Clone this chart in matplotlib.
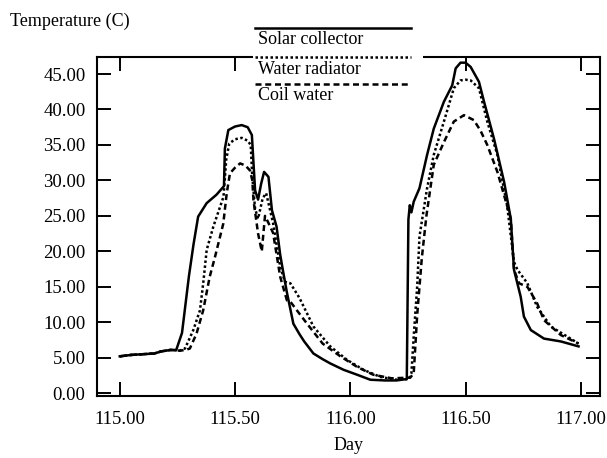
import matplotlib
matplotlib.use("Agg")
import matplotlib.pyplot as plt
from matplotlib.lines import Line2D
from matplotlib.patches import Rectangle
from matplotlib.ticker import FormatStrFormatter

plt.rcParams['font.family'] = ['Liberation Serif', 'DejaVu Serif']

# Solar collector (solid)
solar_day = [115.00, 115.05, 115.10, 115.15, 115.18, 115.22, 115.245, 115.27, 115.30, 115.32,
             115.34, 115.377, 115.42, 115.452, 115.456, 115.471, 115.50, 115.529, 115.555, 115.573,
             115.587, 115.60, 115.613, 115.626, 115.645, 115.66, 115.68, 115.696, 115.71, 115.725,
             115.753, 115.78, 115.80, 115.84, 115.88, 115.913, 115.971, 116.03, 116.087, 116.15,
             116.20, 116.245, 116.252, 116.258, 116.265, 116.275, 116.30, 116.333, 116.362, 116.406,
             116.442, 116.457, 116.478, 116.50, 116.522, 116.558, 116.58, 116.623, 116.667, 116.696,
             116.71, 116.739, 116.753, 116.783, 116.84, 116.913, 116.99]
solar_temp = [5.2, 5.4, 5.5, 5.6, 5.9, 6.1, 6.1, 8.5, 16.5, 21.0,
              24.9, 26.8, 28.0, 29.2, 34.5, 37.1, 37.6, 37.8, 37.5, 36.4,
              28.6, 27.3, 29.5, 31.2, 30.5, 25.8, 23.5, 19.5, 16.9, 14.2,
              9.8, 8.3, 7.3, 5.6, 4.8, 4.2, 3.3, 2.6, 1.9, 1.8,
              1.8, 2.0, 24.5, 26.5, 25.5, 27.0, 28.9, 33.6, 37.3, 41.1,
              43.4, 45.8, 46.6, 46.6, 46.0, 43.9, 41.1, 35.9, 29.8, 24.6,
              17.4, 13.6, 10.8, 8.9, 7.7, 7.3, 6.6]

# Water radiator (dotted)
radiator_day = [115.00, 115.05, 115.10, 115.15, 115.18, 115.22, 115.26, 115.283, 115.319, 115.348,
                115.362, 115.377, 115.406, 115.45, 115.462, 115.475, 115.50, 115.529, 115.555, 115.568,
                115.575, 115.587, 115.60, 115.62, 115.635, 115.665, 115.696, 115.717, 115.74, 115.78,
                115.84, 115.913, 115.986, 116.057, 116.13, 116.20, 116.255, 116.265, 116.275, 116.29,
                116.30, 116.333, 116.362, 116.406, 116.449, 116.478, 116.50, 116.522, 116.558, 116.594,
                116.638, 116.68, 116.71, 116.725, 116.768, 116.81, 116.87, 116.94, 116.99]
radiator_temp = [5.2, 5.4, 5.5, 5.6, 5.9, 6.1, 6.0, 6.3, 8.9, 11.7,
                 15.5, 20.2, 23.5, 27.7, 33.0, 35.2, 35.8, 36.0, 35.6, 35.0,
                 30.5, 26.0, 24.6, 27.5, 28.2, 24.0, 17.8, 15.7, 15.5, 13.4,
                 9.4, 6.6, 4.7, 3.3, 2.3, 1.9, 2.0, 2.8, 8.0, 15.0,
                 22.1, 28.9, 33.6, 38.3, 43.0, 44.1, 44.2, 44.1, 43.0, 38.3,
                 33.6, 26.5, 18.5, 17.4, 15.5, 12.2, 9.4, 8.0, 7.0]

# Coil water (dashed)
coil_day = [115.00, 115.05, 115.10, 115.15, 115.18, 115.22, 115.26, 115.285, 115.304, 115.333,
            115.362, 115.39, 115.413, 115.449, 115.464, 115.478, 115.50, 115.522, 115.545, 115.565,
            115.575, 115.58, 115.60, 115.616, 115.63, 115.645, 115.665, 115.696, 115.725, 115.74,
            115.81, 115.88, 115.957, 116.03, 116.10, 116.18, 116.26, 116.275, 116.29, 116.31,
            116.33, 116.362, 116.406, 116.449, 116.493, 116.536, 116.565, 116.594, 116.638, 116.696,
            116.71, 116.732, 116.768, 116.81, 116.84, 116.913, 116.99]
coil_temp = [5.2, 5.4, 5.5, 5.6, 5.9, 6.1, 6.0, 6.1, 6.3, 8.4,
             11.7, 16.4, 19.2, 23.9, 28.2, 31.0, 31.8, 32.4, 32.1, 31.4,
             30.0, 27.2, 22.5, 20.0, 25.0, 24.0, 22.6, 16.4, 13.1, 12.9,
             9.9, 7.0, 5.2, 3.7, 2.6, 2.1, 2.2, 2.8, 11.0, 19.0,
             25.0, 32.2, 35.4, 38.3, 39.2, 38.5, 37.0, 35.0, 31.2, 24.6,
             17.4, 15.5, 15.0, 12.7, 10.3, 8.2, 7.0]

x_ticks = [115.0, 115.5, 116.0, 116.5, 117.0]
y_ticks = [0, 5, 10, 15, 20, 25, 30, 35, 40, 45]
names = ['Solar collector', 'Water radiator', 'Coil water']

W, H = 607, 458
fig = plt.figure(figsize=(W / 100, H / 100), dpi=100)
ax = fig.add_axes([96.7 / W, 1 - 395.7 / H, (600 - 96.7) / W, (395.7 - 57) / H])

styles = ['-', (0, (1, 1.0)), (0, (2.4, 1.5))]
ax.plot(solar_day, solar_temp, color='black', lw=1.8, ls=styles[0])
ax.plot(radiator_day, radiator_temp, color='black', lw=1.8, ls=styles[1])
ax.plot(coil_day, coil_temp, color='black', lw=1.8, ls=styles[2])

ax.set_xlim(114.90, 117.083)
ax.set_ylim(-0.35, 47.4)
ax.set_xticks(x_ticks)
ax.set_yticks(y_ticks)
ax.xaxis.set_major_formatter(FormatStrFormatter('%.2f'))
ax.yaxis.set_major_formatter(FormatStrFormatter('%.2f'))
ax.tick_params(direction='in', length=10, width=1.4, labelsize=13.5,
               top=True, right=True)
ax.tick_params(axis='x', pad=11)
ax.tick_params(axis='y', pad=8)
for s in ax.spines.values():
    s.set_linewidth(1.5)

fig.text(349 / W, 1 - 445 / H, 'Day', ha='center', va='center', fontsize=13)
fig.text(10 / W, 1 - 21 / H, 'Temperature (C)', ha='left', va='center', fontsize=13)

# legend stacked above the frame: line on top, label below
fig.patches.append(Rectangle((253 / W, 1 - 106 / H), 170 / W, 92 / H,
                             transform=fig.transFigure, facecolor='white',
                             edgecolor='none', zorder=3))
line_y = [28, 57, 84]
text_y = [40, 70, 96]
for st, ly, ty, nm in zip(styles, line_y, text_y, names):
    fig.lines.append(Line2D([255 / W, 411 / W], [1 - ly / H, 1 - ly / H],
                            transform=fig.transFigure, color='black',
                            lw=1.8, ls=st, zorder=4))
    fig.text(258 / W, 1 - ty / H, nm, ha='left', va='center', fontsize=13, zorder=5)

fig.savefig('out.png', dpi=100)
